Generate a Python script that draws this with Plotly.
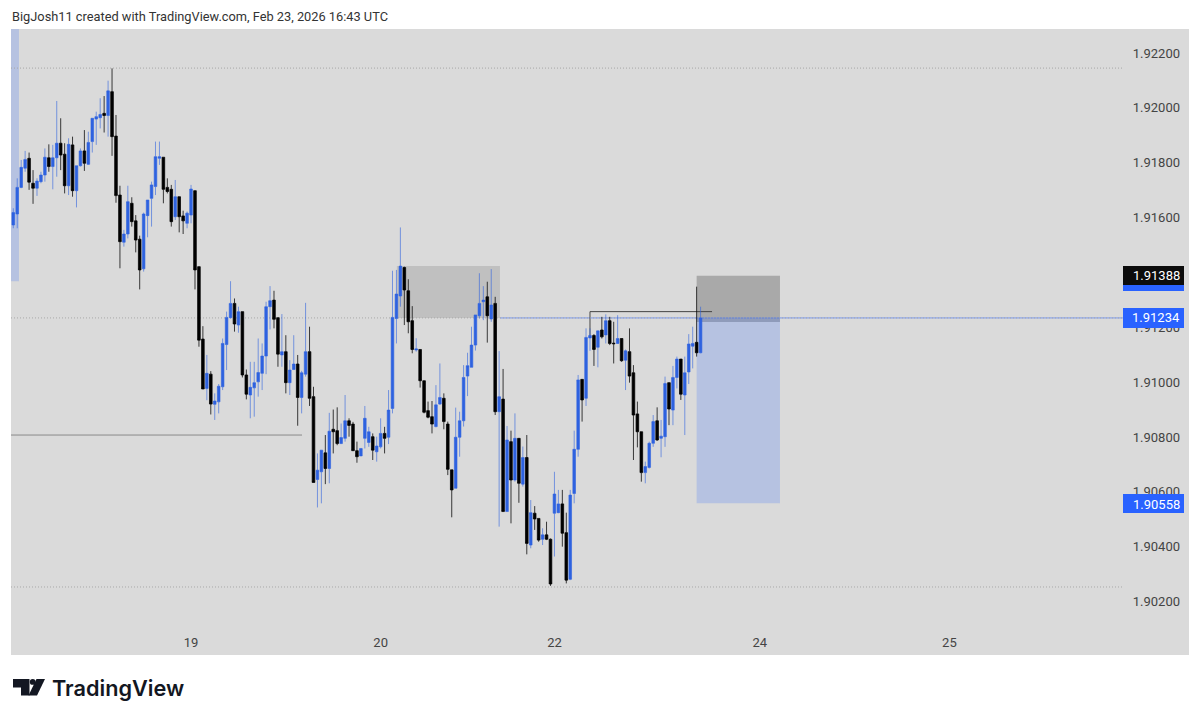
import plotly.graph_objects as go

# bars, left to right
opens = [
    1.91573,1.91613,1.91710,1.91780,1.91816,1.91725,1.91707,1.91731,1.91755,1.91818,
    1.91786,1.91818,1.91871,1.91831,1.91716,1.91865,1.91698,1.91789,1.91843,1.91794,
    1.91877,1.91959,1.91964,1.91980,1.91972,1.92059,1.91897,1.91682,1.91510,1.91540,
    1.91652,1.91588,1.91521,1.91413,1.91607,1.91670,1.91713,1.91816,1.91820,1.91710,
    1.91703,1.91603,1.91676,1.91606,1.91579,1.91609,1.91698,1.91421,1.91157,1.90977,
    1.91029,1.90919,1.90928,1.90983,1.91137,1.91235,1.91287,1.91208,1.91257,1.91026,
    1.90953,1.90979,1.91001,1.91032,1.91095,1.91275,1.91299,1.91235,1.91099,1.91111,
    1.90998,1.91046,1.91066,1.90944,1.91029,1.91111,1.90947,1.90645,1.90673,1.90742,
    1.90685,1.90828,1.90823,1.90776,1.90795,1.90859,1.90847,1.90750,1.90731,1.90795,
    1.90780,1.90801,1.90746,1.90764,1.90813,1.90799,1.90904,1.91232,1.91314,1.91418,
    1.91333,1.91224,1.91117,1.91119,1.91005,1.90896,1.90874,1.90838,1.90920,1.90941,
    1.90847,1.90680,1.90613,1.90799,1.90859,1.91022,1.91054,1.91135,1.91242,1.91293,
    1.91311,1.91230,1.91287,1.90892,1.90938,1.90528,1.90783,1.90643,1.90795,1.90628,
    1.90725,1.90406,1.90522,1.90503,1.90427,1.90443,1.90427,1.90522,1.90524,1.90556,
    1.90451,1.90281,1.90594,1.90755,1.91010,1.90941,1.91161,1.91170,1.91127,1.91190,
    1.91172,1.91224,1.91142,1.91141,1.91159,1.91080,1.91111,1.91034,1.90884,1.90819,
    1.90670,1.90689,1.90777,1.90859,1.90795,1.90801,1.90998,1.90898,1.91017,1.91084,
    1.90953,1.91037,1.91131,1.91145,1.91107,
]
highs = [
    1.91634,1.91743,1.91810,1.91843,1.91837,1.91773,1.91743,1.91767,1.91852,1.91867,
    1.91865,1.92025,1.91962,1.91871,1.91889,1.91895,1.91789,1.91852,1.91919,1.91913,
    1.91962,1.91986,1.92035,1.92043,1.92099,1.92144,1.91974,1.91716,1.91555,1.91716,
    1.91674,1.91609,1.91534,1.91618,1.91664,1.91731,1.91877,1.91877,1.91820,1.91743,
    1.91719,1.91737,1.91676,1.91625,1.91622,1.91719,1.91698,1.91421,1.91204,1.91099,
    1.91040,1.90959,1.90993,1.91159,1.91257,1.91368,1.91305,1.91275,1.91257,1.91046,
    1.91074,1.91074,1.91159,1.91141,1.91293,1.91350,1.91333,1.91235,1.91248,1.91171,
    1.91080,1.91171,1.91099,1.91041,1.91289,1.91202,1.90983,1.90740,1.90752,1.90807,
    1.90888,1.90900,1.90908,1.90849,1.90953,1.90868,1.90855,1.90783,1.90758,1.90913,
    1.90837,1.90813,1.90801,1.90868,1.90837,1.90971,1.91406,1.91409,1.91564,1.91421,
    1.91375,1.91277,1.91160,1.91119,1.91005,1.90929,1.90931,1.90989,1.91068,1.90959,
    1.90856,1.90680,1.90907,1.90892,1.91062,1.91107,1.91202,1.91245,1.91397,1.91350,
    1.91366,1.91412,1.91311,1.91113,1.91048,1.90840,1.90823,1.90886,1.90795,1.90765,
    1.90807,1.90570,1.90548,1.90503,1.90467,1.90491,1.90430,1.90673,1.90607,1.90607,
    1.90524,1.90607,1.90823,1.91026,1.91010,1.91196,1.91196,1.91175,1.91187,1.91238,
    1.91247,1.91238,1.91220,1.91244,1.91159,1.91119,1.91196,1.91062,1.90929,1.90819,
    1.90710,1.90783,1.90880,1.90908,1.90862,1.91020,1.90998,1.91059,1.91093,1.91084,
    1.91093,1.91175,1.91202,1.91348,1.91275,
]
lows = [
    1.91561,1.91561,1.91707,1.91767,1.91701,1.91650,1.91679,1.91725,1.91731,1.91767,
    1.91703,1.91749,1.91773,1.91688,1.91682,1.91676,1.91637,1.91786,1.91770,1.91792,
    1.91837,1.91865,1.91925,1.91910,1.91895,1.91825,1.91654,1.91415,1.91494,1.91524,
    1.91567,1.91473,1.91338,1.91403,1.91528,1.91567,1.91682,1.91792,1.91652,1.91688,
    1.91567,1.91591,1.91546,1.91540,1.91561,1.91579,1.91338,1.91129,1.90975,1.90934,
    1.90882,1.90862,1.90886,1.90971,1.91044,1.91232,1.91184,1.91180,1.91017,1.90937,
    1.90868,1.90874,1.90947,1.90971,1.91029,1.91192,1.91196,1.91056,1.91056,1.90959,
    1.90953,1.91044,1.90841,1.90886,1.91020,1.90913,1.90634,1.90543,1.90558,1.90628,
    1.90631,1.90740,1.90770,1.90774,1.90783,1.90801,1.90750,1.90706,1.90730,1.90758,
    1.90764,1.90716,1.90710,1.90758,1.90740,1.90774,1.90886,1.91141,1.91275,1.91208,
    1.91178,1.91105,1.91111,1.90980,1.90886,1.90868,1.90813,1.90835,1.90917,1.90828,
    1.90661,1.90507,1.90613,1.90728,1.90838,1.90949,1.91054,1.91115,1.91232,1.91226,
    1.91144,1.91220,1.90880,1.90473,1.90528,1.90528,1.90485,1.90637,1.90560,1.90619,
    1.90372,1.90394,1.90461,1.90418,1.90406,1.90424,1.90257,1.90364,1.90522,1.90400,
    1.90266,1.90278,1.90558,1.90728,1.90856,1.90913,1.91114,1.91059,1.91054,1.91159,
    1.91141,1.91135,1.91068,1.91139,1.91074,1.90971,1.90998,1.90716,1.90762,1.90637,
    1.90631,1.90685,1.90764,1.90786,1.90726,1.90764,1.90843,1.90843,1.90977,1.90935,
    1.90807,1.90993,1.91050,1.91093,1.91105,
]
closes = [
    1.91618,1.91710,1.91783,1.91812,1.91729,1.91707,1.91733,1.91755,1.91820,1.91786,
    1.91818,1.91871,1.91828,1.91716,1.91867,1.91698,1.91789,1.91843,1.91798,1.91874,
    1.91962,1.91968,1.91976,1.91972,1.92062,1.91895,1.91680,1.91512,1.91540,1.91658,
    1.91585,1.91518,1.91409,1.91613,1.91664,1.91719,1.91822,1.91822,1.91703,1.91695,
    1.91585,1.91676,1.91603,1.91588,1.91616,1.91704,1.91409,1.91153,1.90975,1.91032,
    1.90920,1.90931,1.90985,1.91141,1.91236,1.91287,1.91212,1.91257,1.91026,1.90956,
    1.90981,1.90998,1.91035,1.91095,1.91275,1.91297,1.91229,1.91102,1.91111,1.90998,
    1.91044,1.91066,1.90944,1.91034,1.91111,1.90941,1.90634,1.90679,1.90752,1.90685,
    1.90821,1.90819,1.90776,1.90798,1.90859,1.90842,1.90750,1.90728,1.90758,1.90868,
    1.90819,1.90752,1.90767,1.90813,1.90795,1.90898,1.91236,1.91321,1.91423,1.91336,
    1.91220,1.91119,1.91121,1.91005,1.90890,1.90872,1.90847,1.90917,1.90944,1.90856,
    1.90682,1.90607,1.90799,1.90859,1.91017,1.91060,1.91135,1.91245,1.91287,1.91299,
    1.91242,1.91281,1.90892,1.90947,1.90528,1.90789,1.90643,1.90795,1.90631,1.90725,
    1.90412,1.90524,1.90501,1.90424,1.90443,1.90427,1.90264,1.90592,1.90556,1.90449,
    1.90278,1.90588,1.90755,1.91008,1.90935,1.91163,1.91170,1.91119,1.91187,1.91165,
    1.91224,1.91141,1.91140,1.91159,1.91078,1.91114,1.91022,1.90880,1.90819,1.90670,
    1.90692,1.90777,1.90856,1.90789,1.90803,1.90995,1.90902,1.91017,1.91084,1.90956,
    1.91034,1.91139,1.91141,1.91107,1.91234,
]

price_ticks = [1.902, 1.904, 1.906, 1.908, 1.910, 1.912, 1.914, 1.916, 1.918, 1.920, 1.922]
day_bars = [45, 93, 137, 189, 237]
day_labels = ["19", "20", "22", "24", "25"]

# drawings on the chart, prices
last_price = 1.91234
stop_price = 1.91388
target_price = 1.90558
dotted_levels = [1.92145, 1.91234, 1.90253]
support_level = 1.90807
swing_level = 1.91257

BLUE = "#2e62e0"
GREY_BG = "#dadada"
TEXT = "#333333"

# the page keeps the browser's 8px body margin, so the figure is a bit smaller than the window
PAGE_MARGIN = 8
W, H = 1200 - PAGE_MARGIN, 720 - PAGE_MARGIN
LEFT, RIGHT, TOP, BOTTOM = 11, 1189, 29, 655
XR = [-0.58, 297.65]
YR = [1.90005, 1.922875]


def px(x, y):
    # pixel position on the page to paper coords
    return (x - LEFT) / (RIGHT - LEFT), (BOTTOM - y) / (BOTTOM - TOP)


def box(x0, x1, y0, y1, color, layer="below"):
    return dict(type="rect", xref="x", yref="y", x0=x0, x1=x1, y0=y0, y1=y1,
                fillcolor=color, line_width=0, layer=layer)


def paper_box(x0, y0, x1, y1, color):
    a, b = px(x0, y0)
    c, d = px(x1, y1)
    return dict(type="rect", xref="paper", yref="paper", x0=a, x1=c, y0=b, y1=d,
                fillcolor=color, line_width=0, layer="above")


def hline(x0, x1, y, color, dash="solid", width=1):
    return dict(type="line", xref="x", yref="y", x0=x0, x1=x1, y0=y, y1=y,
                line=dict(color=color, width=width, dash=dash), layer="below")


def logo_path(points):
    s = ""
    for i, (x, y) in enumerate(points):
        a, b = px(x, y)
        s += ("M" if i == 0 else "L") + " %.5f %.5f " % (a, b)
    return s + "Z"


shapes = [
    box(XR[0], 1.44, 1.91368, YR[1], "rgba(41,98,255,0.2)"),
    box(97.1, 123.2, 1.91234, 1.91423, "rgba(90,90,90,0.2)"),
    box(173, 194.1, last_price - 0.00015, stop_price, "rgba(70,70,70,0.33)"),
    box(173, 194.1, target_price, last_price, "rgba(41,98,255,0.2)"),
    hline(123.2, 280.9, last_price, "rgba(41,98,255,0.55)"),
    hline(XR[0], 73.1, support_level, "#8a8a8a"),
    hline(146, 176.9, swing_level, "#444444"),
    dict(type="line", xref="x", yref="y", x0=146, x1=146, y0=1.91165, y1=swing_level,
         line=dict(color="#444444", width=1), layer="below"),
    paper_box(1123, 266, 1184, 291, "#2962ff"),
    paper_box(1123, 266, 1184, 285, "#0c0c0c"),
    paper_box(1123, 308, 1184, 328, "#2962ff"),
    paper_box(1123, 494, 1184, 513, "#2962ff"),
    # TradingView mark
    dict(type="path", xref="paper", yref="paper", fillcolor="#131722", line_width=0,
         path=logo_path([(13, 679), (29.5, 679), (29.5, 695.5), (21, 695.5), (21, 687.5), (13, 687.5)])),
    dict(type="path", xref="paper", yref="paper", fillcolor="#131722", line_width=0,
         path=logo_path([(36.5, 679), (45, 679), (37, 695.5), (28.5, 695.5)])),
    dict(type="circle", xref="paper", yref="paper", fillcolor="#131722", line_width=0,
         x0=px(29.8, 0)[0], x1=px(35.6, 0)[0], y0=px(0, 684.8)[1], y1=px(0, 679)[1]),
]
for lvl in dotted_levels:
    shapes.append(hline(XR[0], 280.9, lvl, "#a8a8a8", dash="1px,2px"))


def price_label(price, y, color="white"):
    return dict(xref="paper", yref="paper", x=px(1156, 0)[0], y=px(0, y)[1],
                text="%.5f" % price, showarrow=False, xanchor="center", yanchor="middle",
                font=dict(family="Roboto", size=13, color=color))


annotations = [
    price_label(stop_price, 275.5),
    price_label(last_price, 318),
    price_label(target_price, 504),
    dict(xref="paper", yref="paper", x=px(10, 0)[0], y=px(0, 17)[1], xanchor="left",
         yanchor="middle", showarrow=False,
         text="BigJosh11 created with TradingView.com, Feb 23, 2026 16:43 UTC",
         font=dict(family="Roboto", size=12.8, color=TEXT)),
    dict(xref="paper", yref="paper", x=px(50, 0)[0], y=px(0, 688)[1], xanchor="left",
         yanchor="middle", showarrow=False, text="TradingView",
         font=dict(family="Inter", size=21.7, color="#131722", weight=600)),
]

fig = go.Figure(go.Candlestick(
    x=list(range(len(opens))), open=opens, high=highs, low=lows, close=closes,
    increasing=dict(line=dict(color="rgba(46,98,224,0.6)", width=1), fillcolor=BLUE),
    decreasing=dict(line=dict(color="rgba(0,0,0,0.75)", width=1), fillcolor="#000000"),
    showlegend=False, hoverinfo="skip",
))
fig.update_layout(
    width=W, height=H,
    margin=dict(l=LEFT - PAGE_MARGIN, r=W - (RIGHT - PAGE_MARGIN), t=TOP - PAGE_MARGIN,
                b=H - (BOTTOM - PAGE_MARGIN), pad=0),
    paper_bgcolor="white", plot_bgcolor=GREY_BG, showlegend=False, boxgap=0.05,
    shapes=shapes, annotations=annotations, font=dict(family="Roboto", size=13, color=TEXT),
)
fig.update_xaxes(range=XR, rangeslider_visible=False, showgrid=False, zeroline=False, showline=False,
                 tickmode="array", tickvals=day_bars, ticktext=day_labels, ticks="",
                 ticklabelposition="inside", ticklabelstandoff=2)
# the 1.91400 label sits fully behind the black price tag, so it stays blank
fig.update_yaxes(range=YR, side="right", showgrid=False, zeroline=False, showline=False,
                 tickmode="array", tickvals=price_ticks,
                 ticktext=["" if p == 1.914 else "%.5f" % p for p in price_ticks],
                 ticks="", ticklabelposition="inside", ticklabelstandoff=6)

fig.write_html("out.html")
